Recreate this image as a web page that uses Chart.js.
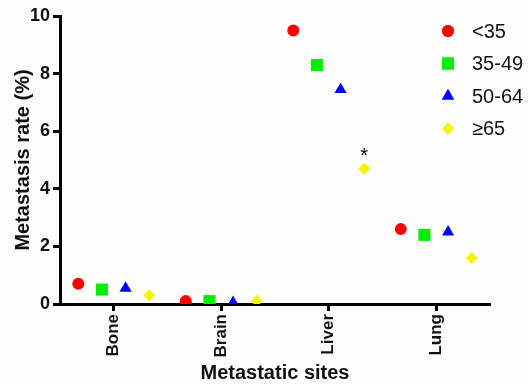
<!DOCTYPE html>
<html lang="en">
<head>
<meta charset="UTF-8">
<title>Metastasis rate by age group</title>
<style>
  html,body{margin:0;padding:0;background:#fdfdfb}
  #wrap{width:528px;height:385px;position:relative}
</style>
</head>
<body>
<div id="wrap"><canvas id="chart" width="528" height="385"></canvas></div>

<script src="https://cdn.jsdelivr.net/npm/chart.js@4.4.0/dist/chart.umd.min.js"></script>
<script>
/* ---------- Data ---------- */
const sites     = ['Bone', 'Brain', 'Liver', 'Lung'];
const groups    = ['<35', '35-49', '50-64', '\u226565'];
const under35   = [0.7, 0.1, 9.5, 2.6];
const age35to49 = [0.5, 0.1, 8.3, 2.4];
const age50to64 = [0.55, 0.05, 7.45, 2.5];
const over65    = [0.3, 0.1, 4.7, 1.6];
const yTicks    = [0, 2, 4, 6, 8, 10];
const marks     = [{site: 'Liver', group: '\u226565', text: '*'}];

/* ---------- Styles ---------- */
const colors = ['#ff0000', '#00ee00', '#0000ff', '#f5f500'];
const shapes = ['circle', 'rect', 'triangle', 'rectRot'];
const radii  = [6, 8.5, 7, 6];
const dodge  = [-0.33, -0.11, 0.11, 0.33];
const FONT   = 'Arial, "Liberation Sans", sans-serif';

const series = [under35, age35to49, age50to64, over65];
const datasets = groups.map((g, k) => ({
  label: g,
  data: series[k].map((v, i) => ({x: i + 0.5 + dodge[k], y: v})),
  pointStyle: shapes[k],
  pointRadius: radii[k],
  pointHoverRadius: radii[k],
  backgroundColor: colors[k],
  borderColor: colors[k],
  borderWidth: 0
}));

/* asterisk above a point + legend inside plot area */
const extras = {
  id: 'extras',
  afterDatasetsDraw(chart) {
    const {ctx, scales: {x, y}} = chart;
    ctx.save();
    ctx.fillStyle = '#000';
    ctx.font = '20px ' + FONT;
    ctx.textAlign = 'center';
    ctx.textBaseline = 'middle';
    marks.forEach(m => {
      const i = sites.indexOf(m.site), k = groups.indexOf(m.group);
      const px = x.getPixelForValue(i + 0.5 + dodge[k]);
      const py = y.getPixelForValue(series[k][i]);
      ctx.fillText(m.text, px, py - 12);
    });
    // legend
    ctx.font = '20px ' + FONT;
    ctx.textAlign = 'left';
    groups.forEach((g, k) => {
      const ly = 31 + k * 32.5;
      ctx.fillStyle = colors[k];
      Chart.helpers.drawPoint(ctx, {pointStyle: shapes[k], radius: radii[k], borderWidth: 0}, 448, ly);
      ctx.fill();
      ctx.fillStyle = '#111';
      ctx.fillText(g, 472, ly + 1);
    });
    ctx.restore();
  }
};

new Chart(document.getElementById('chart'), {
  type: 'scatter',
  data: {datasets},
  plugins: [extras],
  options: {
    responsive: false,
    animation: false,
    events: [],
    layout: {padding: {top: 16, right: 38, left: 0, bottom: 0}},
    plugins: {legend: {display: false}, tooltip: {enabled: false}},
    scales: {
      x: {
        type: 'linear', min: 0, max: 4,
        afterFit(s) { s.height = 81; },
        afterBuildTicks(s) { s.ticks = sites.map((_, i) => ({value: i + 0.5})); },
        ticks: {
          callback: v => sites[Math.round(v - 0.5)],
          minRotation: 90, maxRotation: 90, padding: 3,
          color: '#111', font: {family: FONT, size: 17, weight: 'bold'}
        },
        grid: {drawOnChartArea: false, tickLength: 7, tickWidth: 3, color: '#000'},
        border: {color: '#000', width: 3},
        title: {display: true, text: 'Metastatic sites', color: '#111',
                font: {family: FONT, size: 20, weight: 'bold'}, padding: {top: 0, bottom: 0}}
      },
      y: {
        min: 0, max: 10,
        afterFit(s) { s.width = 60; },
        afterBuildTicks(s) { s.ticks = yTicks.map(v => ({value: v})); },
        ticks: {
          padding: 3, color: '#111',
          font: {family: FONT, size: 18, weight: 'bold'}
        },
        grid: {drawOnChartArea: false, tickLength: 7, tickWidth: 3, color: '#000'},
        border: {color: '#000', width: 3},
        title: {display: true, text: 'Metastasis rate (%)', color: '#111',
                font: {family: FONT, size: 20, weight: 'bold'}, padding: {top: 11, bottom: 0}}
      }
    }
  }
});
</script>
</body>
</html>
